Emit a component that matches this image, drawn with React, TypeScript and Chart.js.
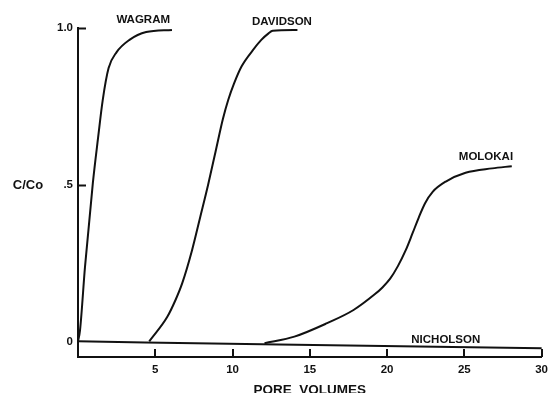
import React, { useEffect, useRef } from "react";
import { Chart, registerables } from "chart.js";

Chart.register(...registerables);

// ---- data (pore volumes vs relative concentration C/Co) ----
const wagramX = [0, 0.13, 0.45, 0.96, 1.3, 1.6, 1.98, 2.5, 3.33, 4.41, 6.08];
const wagramY = [0, 0.035, 0.236, 0.505, 0.65, 0.77, 0.872, 0.923, 0.962, 0.987, 0.994];

const davidsonX = [4.61, 5.78, 6.31, 6.74, 7.38, 7.91, 8.42, 8.9, 9.38, 9.72, 10.1, 10.58, 11.33, 11.86, 12.33, 12.6, 14.2];
const davidsonY = [0, 0.0785, 0.132, 0.185, 0.291, 0.397, 0.5, 0.605, 0.71, 0.77, 0.823, 0.877, 0.93, 0.962, 0.983, 0.991, 0.994];

const molokaiX = [12.07, 14.0, 16.12, 17.83, 19.2, 19.7, 20.2, 20.7, 21.2, 21.65, 22.05, 22.45, 22.95, 23.8, 25.08, 26.8, 28.07];
const molokaiY = [-0.006, 0.015, 0.058, 0.1, 0.15, 0.172, 0.2, 0.24, 0.29, 0.345, 0.395, 0.44, 0.477, 0.51, 0.538, 0.552, 0.559];

const nicholsonX = [0, 13, 30];
const nicholsonY = [0, -0.01, -0.022];

const seriesNames = ["WAGRAM", "DAVIDSON", "MOLOKAI", "NICHOLSON"];
// label anchor positions in data units (x, y)
const labelX = [4.22, 13.2, 26.4, 23.8];
const labelY = [1.026, 1.02, 0.59, 0.006];

const xTickValues = [5, 10, 15, 20, 25, 30];
const yTickValues = [0, 0.5, 1];
const yTickLabels = ["0", ".5", "1.0"];

const xTitle = "PORE  VOLUMES";
const yTitle = "C/Co";

const INK = "#111";
const FONT = "'Liberation Sans', Arial, sans-serif";

function pts(xs: number[], ys: number[]) {
  return xs.map((x, i) => ({ x, y: ys[i] }));
}

export default function App() {
  const ref = useRef<HTMLCanvasElement | null>(null);

  useEffect(() => {
    if (!ref.current) return;

    const decorPlugin = {
      id: "decor",
      afterDraw(chart: any) {
        const { ctx, chartArea, scales } = chart;
        const xs = scales.x;
        const ys = scales.y;
        ctx.save();
        ctx.strokeStyle = INK;
        ctx.lineWidth = 2;
        // inward ticks on x axis
        xTickValues.forEach((v) => {
          const px = Math.round(xs.getPixelForValue(v));
          ctx.beginPath();
          ctx.moveTo(px, chartArea.bottom);
          ctx.lineTo(px, chartArea.bottom - 8);
          ctx.stroke();
        });
        // inward ticks on y axis (not at 0)
        yTickValues.forEach((v) => {
          if (v === 0) return;
          const py = Math.round(ys.getPixelForValue(v)) + 0.5;
          ctx.beginPath();
          ctx.moveTo(chartArea.left, py);
          ctx.lineTo(chartArea.left + 8, py);
          ctx.stroke();
        });
        // curve labels
        ctx.fillStyle = INK;
        ctx.textAlign = "center";
        ctx.textBaseline = "middle";
        ctx.font = `bold 11.5px ${FONT}`;
        seriesNames.forEach((name, i) => {
          ctx.fillText(name, xs.getPixelForValue(labelX[i]), ys.getPixelForValue(labelY[i]));
        });
        // y title (horizontal)
        ctx.font = `bold 13px ${FONT}`;
        ctx.fillText(yTitle, 28, ys.getPixelForValue(0.5) + 1);
        ctx.restore();
      },
    };

    const lineDs = (label: string, xs: number[], ys: number[]) => ({
      label,
      data: pts(xs, ys),
      showLine: true,
      borderColor: INK,
      borderWidth: 2,
      pointRadius: 0,
      cubicInterpolationMode: "monotone" as const,
      clip: false as any,
    });

    const chart = new Chart(ref.current, {
      type: "scatter",
      data: {
        datasets: [
          lineDs(seriesNames[0], wagramX, wagramY),
          lineDs(seriesNames[1], davidsonX, davidsonY),
          lineDs(seriesNames[2], molokaiX, molokaiY),
          lineDs(seriesNames[3], nicholsonX, nicholsonY),
        ],
      },
      options: {
        responsive: false,
        animation: false,
        layout: { padding: { top: 28, right: 7, left: 0, bottom: 0 } },
        plugins: {
          legend: { display: false },
          tooltip: { enabled: false },
        },
        scales: {
          x: {
            type: "linear",
            min: 0,
            max: 30,
            grid: { drawOnChartArea: false, drawTicks: false },
            border: { display: true, color: INK, width: 2 },
            afterBuildTicks: (s: any) => {
              s.ticks = xTickValues.map((v) => ({ value: v }));
            },
            afterFit: (s: any) => {
              s.height = 36;
            },
            ticks: {
              color: INK,
              padding: 6,
              maxRotation: 0,
              autoSkip: false,
              font: { family: FONT, size: 11.5, weight: "bold" },
              callback: (v: any) => String(v),
            },
            title: {
              display: true,
              text: xTitle,
              color: INK,
              font: { family: FONT, size: 13.5, weight: "bold", lineHeight: 1 },
              padding: { top: 0, bottom: -4 },
            },
          },
          y: {
            type: "linear",
            min: -0.05,
            max: 1.0,
            grid: { drawOnChartArea: false, drawTicks: false },
            border: { display: true, color: INK, width: 2 },
            afterBuildTicks: (s: any) => {
              s.ticks = yTickValues.map((v) => ({ value: v }));
            },
            afterFit: (s: any) => {
              s.width = 78;
            },
            ticks: {
              color: INK,
              padding: 5,
              autoSkip: false,
              font: { family: FONT, size: 11.5, weight: "bold" },
              callback: (v: any) => {
                const i = yTickValues.indexOf(Number(v));
                return i >= 0 ? yTickLabels[i] : "";
              },
            },
          },
        },
      },
      plugins: [decorPlugin],
    });

    return () => chart.destroy();
  }, []);

  return (
    <div style={{ position: "fixed", left: 0, top: 0, width: 554, height: 393, background: "#fff" }}>
      <canvas ref={ref} width={554} height={393} style={{ display: "block" }} />
    </div>
  );
}
